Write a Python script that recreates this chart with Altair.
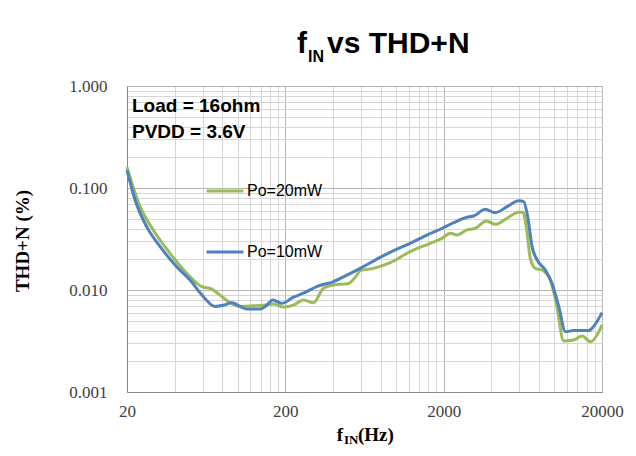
import altair as alt
import pandas as pd

# ---- data ----
freq_20mw = [20, 24.2, 29.3, 37.4, 47.7, 59.3, 68.6, 77.4, 89.6, 103.6, 125.7, 145.5, 168, 195,
             225, 260, 301, 348, 403, 501, 566, 594, 721, 919, 1230, 1645, 1950, 2203, 2427,
             2807, 3170, 3720, 4238, 5025, 5955, 6342, 6650, 7050, 7580, 8360, 9430, 10300,
             11460, 13250, 14970, 16900, 18620, 20000]
thd_20mw = [0.160, 0.0656, 0.0388, 0.0229, 0.0146, 0.0108, 0.0102, 0.0089, 0.0075, 0.0069,
            0.0070, 0.0071, 0.0073, 0.0068, 0.0071, 0.0080, 0.0075, 0.0104, 0.0112, 0.0116,
            0.0140, 0.0155, 0.0163, 0.0185, 0.0238, 0.0287, 0.0321, 0.0360, 0.0346, 0.0388,
            0.0403, 0.0475, 0.0440, 0.0505, 0.0578, 0.0578, 0.0418, 0.0204, 0.0163, 0.0157,
            0.0125, 0.0074, 0.00316, 0.00324, 0.00354, 0.00311, 0.00362, 0.00454]

freq_10mw = [20, 22.5, 26.6, 32.4, 41.2, 50, 60.7, 71.9, 81.3, 91.8, 103.6, 114.2, 138.7, 152.8,
             166.8, 190, 225, 260, 316, 403, 490, 594, 757, 966, 1230, 1567, 1905, 2313, 2807,
             3092, 3665, 4238, 5025, 5955, 6402, 6788, 7235, 7780, 8774, 9674, 10664, 11755,
             13250, 16480, 17720, 20000]
thd_10mw = [0.150, 0.0762, 0.0418, 0.0266, 0.0169, 0.0125, 0.0086, 0.0069, 0.0071, 0.0075,
            0.0069, 0.0065, 0.0065, 0.0071, 0.0080, 0.0074, 0.0085, 0.0093, 0.0108, 0.0121,
            0.0140, 0.0163, 0.0201, 0.0243, 0.0287, 0.0346, 0.0394, 0.0457, 0.0516, 0.0531,
            0.0618, 0.0573, 0.0656, 0.0751, 0.0734, 0.0523, 0.0266, 0.0197, 0.0157, 0.0116,
            0.0069, 0.0039, 0.0040, 0.0040, 0.0044, 0.0060]

series_names = ["Po=20mW", "Po=10mW"]
series_colors = ["#9bbb59", "#4f81bd"]

x_major = [20, 200, 2000, 20000]
y_major = [0.001, 0.01, 0.1, 1.0]
x_grid = [m * k for m in [20, 200, 2000] for k in range(1, 10)] + [20000]
y_grid = [round(m * k, 6) for m in [0.001, 0.01, 0.1] for k in range(1, 10)] + [1.0]

rows = []
for f, v in zip(freq_20mw, thd_20mw):
    rows.append({"f": f, "thd": v, "series": series_names[0]})
for f, v in zip(freq_10mw, thd_10mw):
    rows.append({"f": f, "thd": v, "series": series_names[1]})
df = pd.DataFrame(rows)

x_major_test = " || ".join(f"datum.value == {v}" for v in x_major)
y_major_test = " || ".join(f"datum.value == {v}" for v in y_major)

x_axis = alt.Axis(
    values=x_grid, title=None, ticks=False, domainColor="#868686",
    labelExpr=f"({x_major_test}) ? datum.label : ''", format="d",
    labelFont="Liberation Serif", labelFontSize=17, labelColor="#404040",
    labelPadding=11, labelFlush=False, labelOverlap=False,
    gridColor=alt.condition(x_major_test, alt.value("#b4b4b4"), alt.value("#d6d6d6")),
    gridWidth=1,
)
y_axis = alt.Axis(
    values=y_grid, title=None, ticks=False, domainColor="#868686",
    labelExpr=f"({y_major_test}) ? format(datum.value, '.3f') : ''",
    labelFont="Liberation Serif", labelFontSize=17, labelColor="#404040",
    labelPadding=20, labelFlush=False, labelOverlap=False,
    gridColor=alt.condition(y_major_test, alt.value("#b4b4b4"), alt.value("#d6d6d6")),
    gridWidth=1,
)

lines = alt.Chart(df).mark_line(strokeWidth=3, interpolate="monotone").encode(
    x=alt.X("f:Q", scale=alt.Scale(type="log", domain=[20, 20000], nice=False), axis=x_axis),
    y=alt.Y("thd:Q", scale=alt.Scale(type="log", domain=[0.001, 1], nice=False), axis=y_axis),
    color=alt.Color(
        "series:N",
        scale=alt.Scale(domain=series_names, range=series_colors),
        sort=series_names,
        legend=alt.Legend(
            title=None, orient="none", legendX=78, legendY=85, direction="vertical",
            symbolType="stroke", symbolSize=1369, symbolStrokeWidth=3,
            labelFont="Liberation Sans", labelFontSize=16, labelColor="#000000",
            labelOffset=2, rowPadding=33,
        ),
    ),
    order=alt.Order("f:Q"),
)

def txt(text, x, y, size, font, weight="normal", align="left", baseline="alphabetic", angle=0):
    return alt.Chart(pd.DataFrame({"t": [text]})).mark_text(
        align=align, baseline=baseline, font=font, fontSize=size, fontWeight=weight,
        color="#000000", angle=angle,
    ).encode(text="t:N", x=alt.value(x), y=alt.value(y))

sans = "Liberation Sans"
serif = "Liberation Serif"
annotations = [
    txt("f", 180, -33, 30, sans, "bold", align="right"),
    txt("IN", 181, -24, 16, sans, "bold"),
    txt("vs THD+N", 200, -33, 30, sans, "bold"),
    txt("Load = 16ohm", 5, 26, 19, sans, "bold"),
    txt("PVDD = 3.6V", 5, 52, 19, sans, "bold"),
    txt("THD+N (%)", -104, 155, 19, serif, "bold", align="center", baseline="middle", angle=270),
    txt("f", 216, 355, 19, serif, "bold", align="right"),
    txt("IN", 217, 358, 13, serif, "bold"),
    txt("(Hz)", 231, 355, 19, serif, "bold"),
]

chart = alt.layer(lines, *annotations).properties(
    width=475, height=306,
    autosize=alt.AutoSizeParams(type="none"),
    padding={"left": 119, "top": 78, "right": 26, "bottom": 56},
    background="#ffffff",
).configure_view(stroke="#868686", strokeWidth=1)

chart.save("out.html", embed_options={"renderer": "svg", "actions": False})
